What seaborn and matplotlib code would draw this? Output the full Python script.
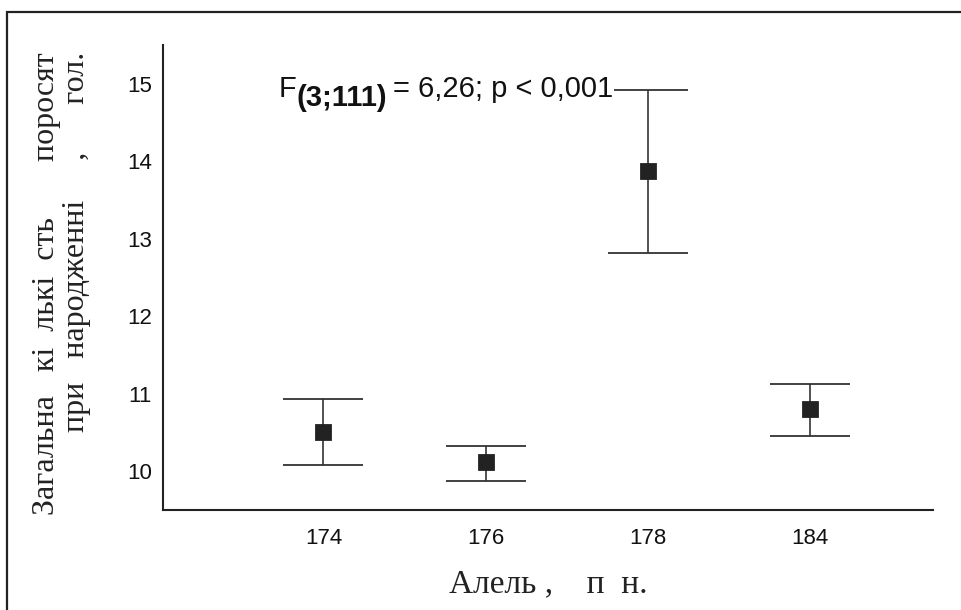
import matplotlib
matplotlib.use("Agg")
import matplotlib.pyplot as plt
import matplotlib.patches as mpatches
import seaborn as sns
import pandas as pd
import numpy as np

alleles = ["174", "176", "178", "184"]
means = [10.51, 10.12, 13.87, 10.80]
lower = [10.08, 9.87, 12.82, 10.46]
upper = [10.93, 10.33, 14.92, 11.13]
yticks = [10, 11, 12, 13, 14, 15]

ylabel = "Загальна   кі  лькі  сть       поросят\nпри   народженні     ,      гол."
xlabel = "Алель ,    п  н."
annot_f = "F"
annot_sub = "(3;111)"
annot_rest = "= 6,26; p < 0,001"

sns.set_style("white")
plt.rcParams["font.family"] = ["Liberation Sans", "DejaVu Sans"]

fig = plt.figure(figsize=(9.61, 6.10), dpi=100)
ax = fig.add_axes([163/961, 1-510/610, (933-163)/961, (510-45)/610])

df = pd.DataFrame({"allele": alleles, "mean": means, "lo": lower, "hi": upper})

sns.pointplot(data=df, x="allele", y="mean", linestyle="none", marker="s",
              color="#222222", markersize=10, errorbar=None, ax=ax, zorder=5)

pos = np.arange(len(alleles))
err = np.vstack([df["mean"] - df["lo"], df["hi"] - df["mean"]])
ax.errorbar(pos, df["mean"], yerr=err, fmt="none", ecolor="#333333",
            elinewidth=1.2, capsize=29, capthick=1.3, zorder=3)

ax.set_xlim(-0.99, 3.76)
ax.set_ylim(9.5, 15.5)
ax.set_yticks(yticks)
ax.set_yticklabels([str(v) for v in yticks])

for s in ["top", "right"]:
    ax.spines[s].set_visible(False)
for s in ["left", "bottom"]:
    ax.spines[s].set_color("#222222")
    ax.spines[s].set_linewidth(1.5)

ax.tick_params(axis="both", direction="in", length=2, width=1, color="#222222",
               labelsize=16, labelcolor="#111111")
ax.tick_params(axis="y", pad=8)
ax.tick_params(axis="x", pad=13)

ax.set_xlabel(xlabel, fontsize=24, family="Liberation Serif", color="#222222", labelpad=14)
ax.set_ylabel(ylabel, fontsize=23, family="Liberation Serif", color="#222222",
              linespacing=1.05, multialignment="right")
ax.yaxis.set_label_coords(-0.094, 0.487)

bb = dict(facecolor="white", edgecolor="none", pad=1.0)
t1 = ax.text(-0.275, 14.83, annot_f, fontsize=21, ha="left", va="baseline",
             color="#111111", zorder=10, bbox=bb)
t2 = ax.annotate(annot_sub, xy=(1, 0), xycoords=t1, xytext=(0, -2),
                 textcoords="offset points", fontsize=21, fontweight="bold",
                 ha="left", va="baseline", color="#111111", zorder=10, bbox=bb)
t3 = ax.annotate(annot_rest, xy=(1, 0), xycoords=(t2, t1), xytext=(4, 0),
                 textcoords="offset points", fontsize=21,
                 ha="left", va="bottom", color="#111111", zorder=10, bbox=bb)

frame = mpatches.Rectangle((6.5/961, -0.2), 1.3, 1 - 11.5/610 + 0.2,
                           transform=fig.transFigure, fill=False,
                           edgecolor="#222222", linewidth=1.6, clip_on=False)
fig.add_artist(frame)

fig.savefig("out.png", dpi=100)
